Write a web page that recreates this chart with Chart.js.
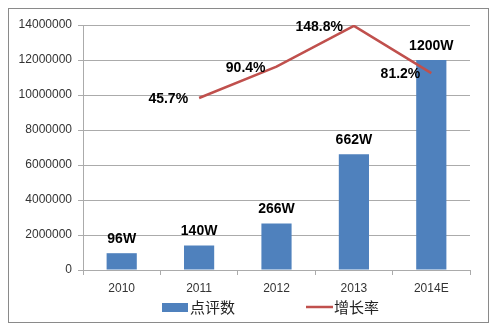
<!DOCTYPE html>
<html>
<head>
<meta charset="utf-8">
<script src="https://cdn.jsdelivr.net/npm/chart.js@4.4.0/dist/chart.umd.min.js"></script>
<style>
  body { margin: 0; background: #fff; }
</style>
</head>
<body>
<canvas id="reviewChart" width="497" height="331"></canvas>
<script>
// 点评数 (条) 与增长率 (%)
const years = ['2010', '2011', '2012', '2013', '2014E'];
const reviewCounts = [960000, 1400000, 2660000, 6620000, 12000000];
const growthRates = [null, 45.7, 90.4, 148.8, 81.2];
const yTickValues = [0, 2000000, 4000000, 6000000, 8000000, 10000000, 12000000, 14000000];

const latinFont = '"Liberation Sans", Arial, sans-serif';
const cjkFont = '"Noto Sans CJK SC", "Liberation Sans", sans-serif';
const gridGray = '#ababab';

// white card with a thin grey frame
const frame = {
  id: 'frame',
  beforeDraw(chart) {
    const ctx = chart.ctx;
    ctx.save();
    ctx.fillStyle = '#fff';
    ctx.fillRect(0, 0, chart.width, chart.height);
    ctx.strokeStyle = '#8a8a8a';
    ctx.lineWidth = 1;
    ctx.strokeRect(8.5, 8.5, 480, 314);
    ctx.restore();
  }
};

// "96W" over bars, "45.7%" to the left of line points
const valueLabels = {
  id: 'valueLabels',
  afterDatasetsDraw(chart) {
    const ctx = chart.ctx;
    ctx.save();
    ctx.fillStyle = '#000';
    ctx.font = 'bold 14px ' + latinFont;
    ctx.textBaseline = 'middle';
    chart.getDatasetMeta(0).data.forEach((bar, i) => {
      ctx.textAlign = 'center';
      ctx.fillText(reviewCounts[i] / 10000 + 'W', bar.x, bar.y - 14);
    });
    chart.getDatasetMeta(1).data.forEach((pt, i) => {
      if (growthRates[i] == null) return;
      ctx.textAlign = 'right';
      ctx.fillText(growthRates[i].toFixed(1) + '%', pt.x - 11, pt.y + 1);
    });
    ctx.restore();
  }
};

// legend row under the x axis
const bottomLegend = {
  id: 'bottomLegend',
  afterDraw(chart) {
    const ctx = chart.ctx;
    const bars = chart.data.datasets[0];
    const line = chart.data.datasets[1];
    const y = 307;
    ctx.save();
    ctx.font = '15px ' + cjkFont;
    ctx.fillStyle = '#222';
    ctx.textBaseline = 'middle';
    ctx.textAlign = 'left';

    ctx.fillStyle = bars.backgroundColor;
    ctx.fillRect(162, y - 4, 26, 9);
    ctx.fillStyle = '#222';
    ctx.fillText(bars.label, 190, y);

    ctx.strokeStyle = line.borderColor;
    ctx.lineWidth = line.borderWidth;
    ctx.beginPath();
    ctx.moveTo(306, y);
    ctx.lineTo(333, y);
    ctx.stroke();
    ctx.fillText(line.label, 334, y);
    ctx.restore();
  }
};

new Chart(document.getElementById('reviewChart'), {
  data: {
    labels: years,
    datasets: [
      {
        type: 'bar',
        label: '点评数',
        data: reviewCounts,
        backgroundColor: '#4f81bd',
        borderWidth: 0,
        barPercentage: 0.39,
        categoryPercentage: 1,
        yAxisID: 'y',
        order: 1
      },
      {
        type: 'line',
        label: '增长率',
        data: growthRates,
        borderColor: '#c0504d',
        borderWidth: 2.5,
        pointRadius: 0,
        tension: 0,
        yAxisID: 'y1',
        order: 0
      }
    ]
  },
  options: {
    responsive: false,
    animation: false,
    layout: { padding: { left: 10, right: 27, top: 25, bottom: 37 } },
    plugins: {
      legend: { display: false },
      tooltip: { enabled: false }
    },
    scales: {
      x: {
        offset: true,
        grid: { display: true, drawOnChartArea: false, tickLength: 5, color: gridGray },
        border: { color: gridGray },
        ticks: { padding: 6, color: '#333', font: { family: latinFont, size: 12 } },
        afterFit(scale) { scale.height = 24; }
      },
      y: {
        min: 0,
        max: 14000000,
        afterBuildTicks(scale) { scale.ticks = yTickValues.map(v => ({ value: v })); },
        grid: { color: gridGray, tickLength: 5 },
        border: { color: gridGray },
        ticks: {
          padding: 6,
          color: '#333',
          font: { family: latinFont, size: 12 },
          callback: v => String(v)
        },
        afterFit(scale) { scale.width = 73; }
      },
      y1: {
        display: false,
        min: -200,
        max: 150
      }
    }
  },
  plugins: [frame, valueLabels, bottomLegend]
});
</script>
</body>
</html>
